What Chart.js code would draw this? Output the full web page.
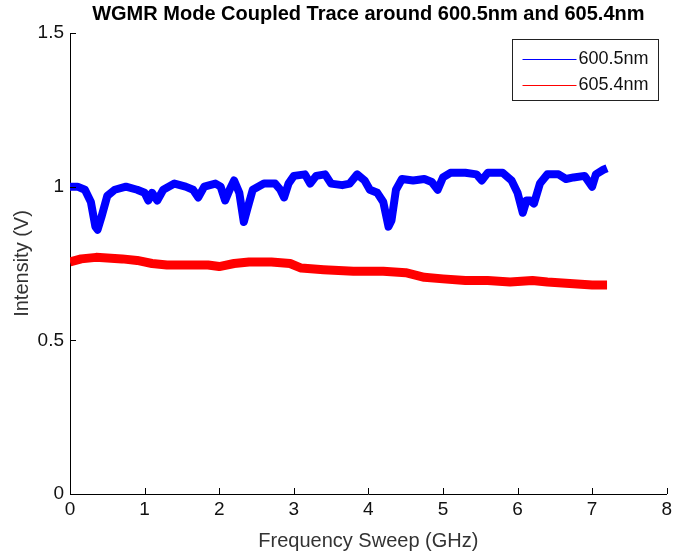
<!DOCTYPE html>
<html>
<head>
<meta charset="utf-8">
<script src="https://cdn.jsdelivr.net/npm/chart.js@4"></script>
<style>
  body { margin: 0; background: #fff; }
  canvas { display: block; }
</style>
</head>
<body>
<canvas id="traceChart" width="676" height="555"></canvas>
<script>
// WGMR coupled trace data
const sweep600 = [0.00, 0.10, 0.20, 0.28, 0.34, 0.37, 0.42, 0.50, 0.60, 0.75, 0.90, 1.00, 1.05, 1.10, 1.17, 1.25, 1.40, 1.55, 1.65, 1.72, 1.80, 1.95, 2.02, 2.08, 2.14, 2.20, 2.27, 2.33, 2.38, 2.45, 2.60, 2.75, 2.82, 2.87, 2.93, 3.00, 3.15, 3.22, 3.30, 3.42, 3.50, 3.65, 3.75, 3.85, 3.95, 4.02, 4.12, 4.20, 4.27, 4.31, 4.37, 4.45, 4.60, 4.75, 4.85, 4.93, 5.00, 5.10, 5.30, 5.45, 5.52, 5.60, 5.80, 5.92, 6.00, 6.07, 6.12, 6.17, 6.22, 6.30, 6.40, 6.55, 6.65, 6.75, 6.90, 7.00, 7.05, 7.15, 7.20];
const volts600 = [1.00, 1.00, 0.99, 0.95, 0.87, 0.86, 0.90, 0.97, 0.99, 1.00, 0.99, 0.98, 0.955, 0.98, 0.955, 0.99, 1.01, 1.00, 0.99, 0.965, 1.00, 1.01, 1.00, 0.955, 0.99, 1.02, 0.98, 0.885, 0.93, 0.99, 1.01, 1.01, 0.99, 0.965, 1.01, 1.035, 1.04, 1.01, 1.035, 1.04, 1.01, 1.005, 1.01, 1.04, 1.02, 0.99, 0.98, 0.95, 0.87, 0.89, 0.99, 1.025, 1.02, 1.025, 1.015, 0.99, 1.03, 1.045, 1.045, 1.04, 1.02, 1.045, 1.045, 1.02, 0.98, 0.915, 0.955, 0.955, 0.945, 1.01, 1.04, 1.04, 1.025, 1.03, 1.035, 1.00, 1.04, 1.055, 1.06];

const sweep605 = [0.00, 0.15, 0.35, 0.70, 0.90, 1.10, 1.30, 1.60, 1.85, 2.00, 2.20, 2.40, 2.70, 2.95, 3.10, 3.40, 3.80, 4.20, 4.50, 4.75, 5.00, 5.30, 5.60, 5.90, 6.20, 6.40, 6.70, 7.00, 7.20];
const volts605 = [0.755, 0.765, 0.77, 0.765, 0.76, 0.75, 0.745, 0.745, 0.745, 0.74, 0.75, 0.755, 0.755, 0.75, 0.735, 0.73, 0.725, 0.725, 0.72, 0.705, 0.70, 0.695, 0.695, 0.69, 0.695, 0.69, 0.685, 0.68, 0.68];

const seriesNames = ["600.5nm", "605.4nm"];
const seriesColors = ["#0000ff", "#ff0000"];
const xTicks = [0, 1, 2, 3, 4, 5, 6, 7, 8];
const yTicks = [0, 0.5, 1, 1.5];

const FONT = "'Liberation Sans', Arial, sans-serif";
const toPoints = (xs, ys) => xs.map((x, i) => ({ x: x, y: ys[i] }));

// inward tick marks + MATLAB style legend box
const matlabAxes = {
  id: "matlabAxes",
  afterDraw(chart) {
    const { ctx, chartArea, scales } = chart;
    ctx.save();
    ctx.strokeStyle = "#000";
    ctx.lineWidth = 1;
    ctx.beginPath();
    scales.x.ticks.forEach((t) => {
      const px = Math.round(scales.x.getPixelForValue(t.value)) + 0.5;
      ctx.moveTo(px, chartArea.bottom);
      ctx.lineTo(px, chartArea.bottom - 6);
    });
    scales.y.ticks.forEach((t) => {
      const py = Math.round(scales.y.getPixelForValue(t.value)) + 0.5;
      ctx.moveTo(chartArea.left, py);
      ctx.lineTo(chartArea.left + 6, py);
    });
    ctx.stroke();

    // legend
    const bw = 146, bh = 61;
    const bx = Math.round(chartArea.right - 9 - bw) + 0.5;
    const by = Math.round(chartArea.top + 6) + 0.5;
    ctx.fillStyle = "#fff";
    ctx.fillRect(bx, by, bw, bh);
    ctx.strokeStyle = "#222";
    ctx.strokeRect(bx, by, bw, bh);
    ctx.font = "18px " + FONT;
    ctx.textBaseline = "middle";
    seriesNames.forEach((name, i) => {
      const ly = Math.round(by + 19 + i * 26) + 0.5;
      ctx.strokeStyle = seriesColors[i];
      ctx.lineWidth = 1;
      ctx.beginPath();
      ctx.moveTo(bx + 10, ly);
      ctx.lineTo(bx + 64, ly);
      ctx.stroke();
      ctx.fillStyle = "#111";
      ctx.fillText(name, bx + 66, ly);
    });
    ctx.restore();
  },
};

const ctx = document.getElementById("traceChart");
new Chart(ctx, {
  type: "line",
  data: {
    datasets: [
      {
        label: seriesNames[0],
        data: toPoints(sweep600, volts600),
        borderColor: seriesColors[0],
        borderWidth: 8,
        pointRadius: 0,
        tension: 0,
        borderJoinStyle: "round",
      },
      {
        label: seriesNames[1],
        data: toPoints(sweep605, volts605),
        borderColor: seriesColors[1],
        borderWidth: 9,
        pointRadius: 0,
        tension: 0,
        borderJoinStyle: "round",
      },
    ],
  },
  options: {
    responsive: false,
    animation: false,
    layout: { padding: { right: 9, left: 0, top: 0, bottom: 0 } },
    plugins: {
      legend: { display: false },
      tooltip: { enabled: false },
      title: {
        display: true,
        fullSize: false,
        text: "WGMR Mode Coupled Trace around 600.5nm and 605.4nm",
        color: "#000",
        font: { family: FONT, size: 20, weight: "bold" },
        padding: { top: 2, bottom: 7 },
      },
    },
    scales: {
      x: {
        type: "linear",
        min: 0,
        max: 8,
        afterBuildTicks: (axis) => { axis.ticks = xTicks.map((v) => ({ value: v })); },
        afterFit: (axis) => { axis.height = 61; },
        grid: { display: false, drawTicks: false, tickLength: 0 },
        border: { display: true, color: "#000", width: 1 },
        ticks: {
          color: "#111",
          padding: 4,
          maxRotation: 0,
          font: { family: FONT, size: 19 },
        },
        title: {
          display: true,
          text: "Frequency Sweep (GHz)",
          color: "#333",
          padding: { top: 2, bottom: 2 },
          font: { family: FONT, size: 20 },
        },
      },
      y: {
        min: 0,
        max: 1.5,
        afterBuildTicks: (axis) => { axis.ticks = yTicks.map((v) => ({ value: v })); },
        afterFit: (axis) => { axis.width = 70; },
        grid: { display: false, drawTicks: false, tickLength: 0 },
        border: { display: true, color: "#000", width: 1 },
        ticks: {
          color: "#111",
          padding: 6,
          callback: (v) => String(v),
          font: { family: FONT, size: 19 },
        },
        title: {
          display: true,
          text: "Intensity (V)",
          color: "#333",
          padding: { top: 10, bottom: 0 },
          font: { family: FONT, size: 20 },
        },
      },
    },
  },
  plugins: [matlabAxes],
});
</script>
</body>
</html>
